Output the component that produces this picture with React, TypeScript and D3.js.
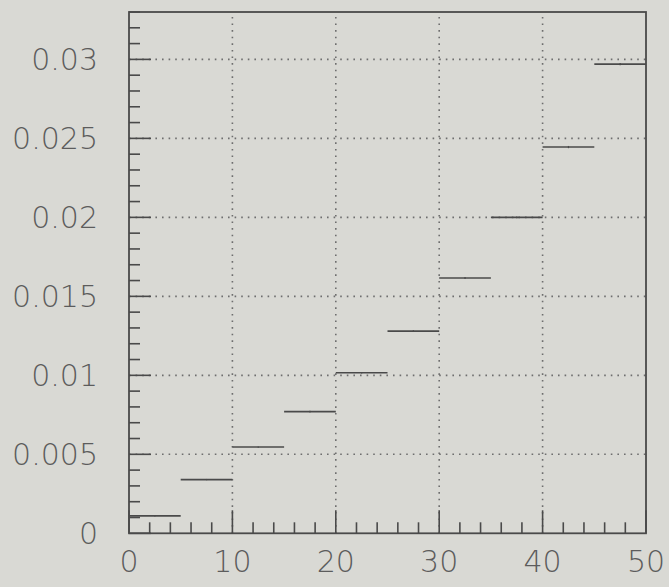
import React from "react";
import * as d3 from "d3";

// Histogram: 10 bins of width 5 over [0, 50]
const binEdges = [0, 5, 10, 15, 20, 25, 30, 35, 40, 45, 50];
const binValues = [0.0011, 0.0034, 0.00546, 0.0077, 0.01016, 0.0128, 0.01616, 0.02, 0.02445, 0.0297];
const binErrors = [0.00003, 0.00004, 0.00004, 0.00005, 0.00005, 0.00005, 0.00006, 0.00006, 0.00007, 0.00007];

const xMajorTicks = [0, 10, 20, 30, 40, 50];
const xTickLabels = ["0", "10", "20", "30", "40", "50"];
const yMajorTicks = [0, 0.005, 0.01, 0.015, 0.02, 0.025, 0.03];
const yTickLabels = ["0", "0.005", "0.01", "0.015", "0.02", "0.025", "0.03"];

const W = 669;
const H = 587;
const plot = { left: 129, right: 646, top: 12, bottom: 533.3 };

const BG = "#d9d9d4";
const INK = "#4a4a4a";
const GRID = "#6e6e6e";
const TEXT = "#5c5c5c";

export default function App() {
  const x = d3.scaleLinear().domain([0, 50]).range([plot.left, plot.right]);
  const y = d3.scaleLinear().domain([0, 0.033]).range([plot.bottom, plot.top]);

  const xMinor = d3.range(0, 50.001, 2).filter((v) => !xMajorTicks.includes(v));
  const yMinor = d3.range(0, 0.0331, 0.001).filter(
    (v) => !yMajorTicks.some((m) => Math.abs(m - v) < 1e-9)
  );

  const font = "'DejaVu Sans', 'Liberation Sans', sans-serif";

  return (
    <svg
      width={W}
      height={H}
      style={{ position: "absolute", left: 0, top: 0, background: BG }}
    >
      <rect x={0} y={0} width={W} height={H} fill={BG} />

      {/* dotted grid */}
      <g stroke={GRID} strokeWidth={1.6} strokeDasharray="1.6 5" fill="none">
        {xMajorTicks
          .filter((v) => v > 0 && v < 50)
          .map((v) => (
            <line key={"gx" + v} x1={x(v)} x2={x(v)} y1={plot.bottom} y2={plot.top} />
          ))}
        {yMajorTicks
          .filter((v) => v > 0)
          .map((v) => (
            <line key={"gy" + v} x1={plot.left} x2={plot.right} y1={y(v)} y2={y(v)} />
          ))}
      </g>

      {/* histogram bins */}
      <g stroke={INK} strokeWidth={1.6}>
        {binValues.map((v, i) => (
          <line
            key={"b" + i}
            x1={x(binEdges[i])}
            x2={x(binEdges[i + 1])}
            y1={y(v)}
            y2={y(v)}
          />
        ))}
        {binValues.map((v, i) => {
          const cx = x((binEdges[i] + binEdges[i + 1]) / 2);
          return (
            <line
              key={"e" + i}
              x1={cx}
              x2={cx}
              y1={y(v - binErrors[i])}
              y2={y(v + binErrors[i])}
              strokeWidth={1.2}
            />
          );
        })}
      </g>

      {/* ticks */}
      <g stroke={INK} strokeWidth={1.6}>
        {xMajorTicks.map((v) => (
          <line key={"xt" + v} x1={x(v)} x2={x(v)} y1={plot.bottom} y2={plot.bottom - 23} />
        ))}
        {xMinor.map((v) => (
          <line key={"xm" + v} x1={x(v)} x2={x(v)} y1={plot.bottom} y2={plot.bottom - 11} />
        ))}
        {yMajorTicks.map((v) => (
          <line key={"yt" + v} x1={plot.left} x2={plot.left + 22} y1={y(v)} y2={y(v)} />
        ))}
        {yMinor.map((v) => (
          <line key={"ym" + v} x1={plot.left} x2={plot.left + 11} y1={y(v)} y2={y(v)} />
        ))}
      </g>

      {/* frame */}
      <rect
        x={plot.left}
        y={plot.top}
        width={plot.right - plot.left}
        height={plot.bottom - plot.top}
        fill="none"
        stroke={INK}
        strokeWidth={1.8}
      />

      {/* tick labels */}
      <g fill={TEXT} fontFamily={font} fontSize={30} fontWeight={200}>
        {xMajorTicks.map((v, i) => (
          <text key={"xl" + v} x={x(v)} y={572} textAnchor="middle">
            {xTickLabels[i]}
          </text>
        ))}
        {yMajorTicks.map((v, i) => (
          <text key={"yl" + v} x={98} y={y(v) + 11} textAnchor="end">
            {yTickLabels[i]}
          </text>
        ))}
      </g>
    </svg>
  );
}
